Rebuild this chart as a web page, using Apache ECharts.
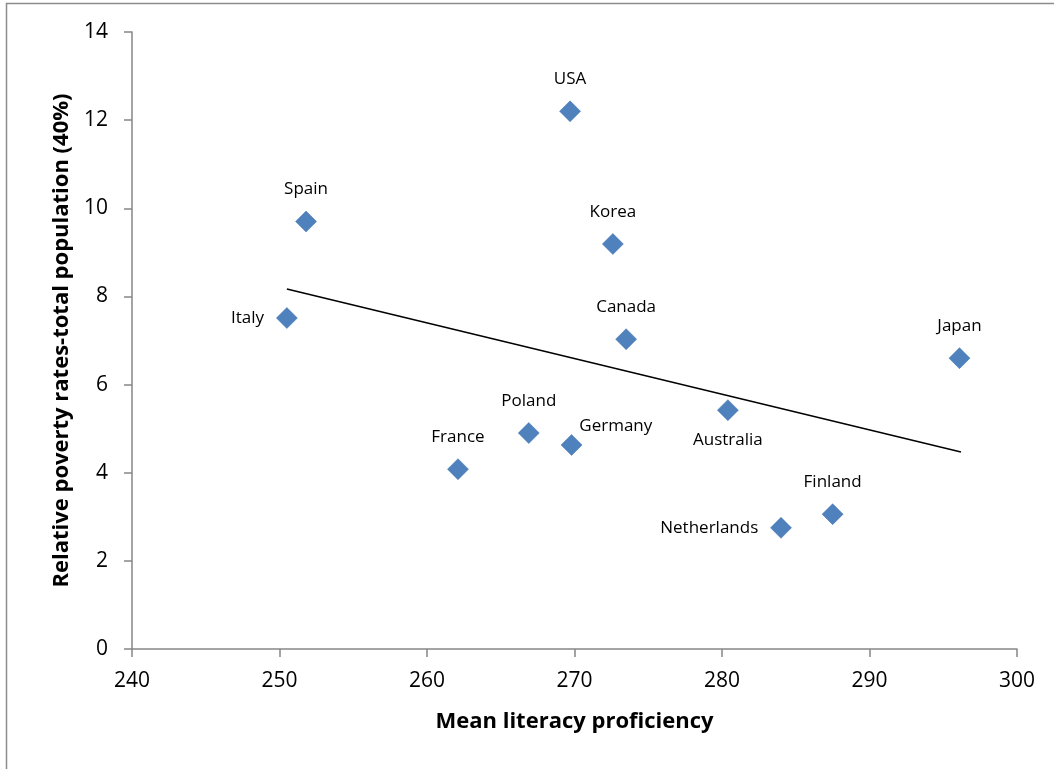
<!DOCTYPE html>
<html><head><meta charset="utf-8">
<script src="https://cdn.jsdelivr.net/npm/echarts@6/dist/echarts.min.js"></script>
<style>html,body{margin:0;padding:0;background:#fff}#c{width:1054px;height:769px}</style>
</head><body><div id="c"></div>
<script>
var countries = ['USA','Spain','Korea','Italy','Canada','Japan','Australia','Poland','Germany','France','Finland','Netherlands'];
var literacy  = [269.7, 251.8, 272.6, 250.5, 273.5, 296.1, 280.4, 266.9, 269.8, 262.1, 287.5, 284.0];
var poverty   = [12.2, 9.7, 9.19, 7.51, 7.03, 6.6, 5.42, 4.9, 4.63, 4.08, 3.06, 2.75];
var trendX = [250.5, 296.2];
var trendY = [8.17, 4.47];
var xTicks = [240, 250, 260, 270, 280, 290, 300];
var yTicks = [0, 2, 4, 6, 8, 10, 12, 14];

var labelPos = {
  'Italy': {position:'left', distance:12},
  'Netherlands': {position:'left', distance:12},
  'Germany': {position:'right', distance:-3, offset:[0,-19]},
  'Australia': {position:'bottom', distance:11}
};
var font = '"Open Sans", "Noto Sans", sans-serif';
var pts = countries.map(function(n,i){
  var lp = labelPos[n] || {position:'top', distance:13};
  return {name:n, value:[literacy[i], poverty[i]], label:Object.assign({show:true, formatter:n}, lp)};
});
var chart = echarts.init(document.getElementById('c'));
chart.setOption({
  animation:false,
  backgroundColor:'#fff',
  graphic:[{type:'rect', shape:{x:6.5,y:3.5,width:1100,height:800}, style:{fill:null, stroke:'#8c8c8c', lineWidth:1.5}, z:-1}],
  grid:{left:132, right:37, top:32, bottom:120},
  xAxis:{type:'value', min:xTicks[0], max:xTicks[xTicks.length-1], interval:10,
    name:'Mean literacy proficiency', nameLocation:'middle', nameGap:62,
    nameTextStyle:{fontFamily:font, fontSize:22, fontWeight:'bold', color:'#000'},
    axisLine:{show:true, lineStyle:{color:'#868686', width:1.5}},
    axisTick:{show:true, length:8, lineStyle:{color:'#868686', width:1.5}},
    axisLabel:{fontFamily:font, fontSize:21, color:'#000', margin:22},
    splitLine:{show:false}},
  yAxis:{type:'value', min:yTicks[0], max:yTicks[yTicks.length-1], interval:2,
    name:'Relative poverty rates-total population (40%)', nameLocation:'middle', nameGap:59,
    nameTextStyle:{fontFamily:font, fontSize:22, fontWeight:'bold', color:'#000'},
    axisLine:{show:true, lineStyle:{color:'#868686', width:1.5}},
    axisTick:{show:true, length:8, lineStyle:{color:'#868686', width:1.5}},
    axisLabel:{fontFamily:font, fontSize:21, color:'#000', margin:24},
    splitLine:{show:false}},
  series:[
    {type:'line', data:[[trendX[0],trendY[0]],[trendX[1],trendY[1]]], symbol:'none',
     lineStyle:{color:'#000', width:1.5}, z:1, silent:true},
    {type:'scatter', symbol:'diamond', symbolSize:21, data:pts,
     itemStyle:{color:'#4f81bd', borderColor:'#3f72b0', borderWidth:0.5, opacity:1},
     label:{show:true, fontFamily:font, fontSize:17, color:'#000'}, z:3}
  ]
});
</script></body></html>
